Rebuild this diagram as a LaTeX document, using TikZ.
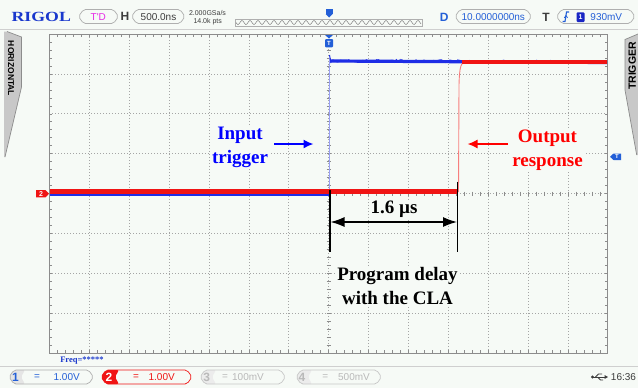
\documentclass[tikz,border=0pt]{standalone}
\usepackage{fontspec}
\setmainfont{Liberation Serif}
\newfontfamily\uifont{Liberation Sans}
\usetikzlibrary{arrows.meta}

\definecolor{scrbg}{RGB}{246,250,246}
\definecolor{gridgray}{RGB}{165,165,165}
\definecolor{framegray}{RGB}{140,140,140}
\definecolor{chblue}{RGB}{30,45,230}
\definecolor{chred}{RGB}{240,20,20}
\definecolor{uiblue}{RGB}{35,95,215}
\definecolor{logoblue}{RGB}{25,55,205}
\definecolor{tdpink}{RGB}{230,40,230}
\definecolor{tabgray}{RGB}{200,200,200}
\definecolor{boxgray}{RGB}{175,175,175}
\definecolor{uidark}{RGB}{60,60,60}
\definecolor{notered}{RGB}{255,0,0}
\definecolor{noteblue}{RGB}{0,0,255}

\tikzset{
  gridline/.style={gridgray, line width=0.6bp, dash pattern=on 0.8bp off 2.2bp},
  frameline/.style={framegray, line width=0.8bp},
  tickline/.style={framegray, line width=0.5bp},
  note/.style={font=\bfseries\fontsize{19bp}{24bp}\selectfont, align=center, fill=scrbg, inner sep=1bp},
  notearrow/.style={-{Latex[length=10bp,width=9bp]}, line width=1.6bp},
  dimline/.style={black, line width=1.3bp},
  dimarrow/.style={{Latex[length=14bp,width=10bp]}-{Latex[length=14bp,width=10bp]}, black, line width=1.3bp},
  uitext/.style={font=\uifont\fontsize{10bp}{10bp}\selectfont, inner sep=0pt},
  uibold/.style={font=\uifont\bfseries\fontsize{12bp}{12bp}\selectfont, inner sep=0pt},
  smalltext/.style={font=\uifont\fontsize{7bp}{7bp}\selectfont, inner sep=0pt, text=uidark},
  tinytag/.style={font=\uifont\bfseries\fontsize{7bp}{7bp}\selectfont, inner sep=0pt, text=white},
  uibox/.style={draw=boxgray, line width=0.7bp, rounded corners=2bp},
}

% box with pointed ends: x left, x right, y centre, extra options
\newcommand{\chevbox}[4]{%
  \draw[uibox,#4] (#1,#3) -- (#1+5,#3-7) -- (#2-5,#3-7) -- (#2,#3) -- (#2-5,#3+7) -- (#1+5,#3+7) -- cycle;}

\begin{document}
\begin{tikzpicture}[x=1bp, y=-1bp]
\useasboundingbox (0,0) rectangle (638,388);
\fill[scrbg] (0,0) rectangle (638,388);

% top bar
\node[font=\bfseries\fontsize{14bp}{14bp}\selectfont, text=logoblue, xscale=1.27, inner sep=0pt] (logo) at (41.3,16.5) {RIGOL};
\chevbox{78.5}{118.5}{16.5}{}
\node[uitext, text=tdpink] (tdmode) at (98.3,16.8) {T'D};
\node[uibold, text=uidark] (hlab) at (125,16.8) {H};
\chevbox{131.5}{185}{16.5}{}
\node[uitext, text=uidark] (hscale) at (158.5,16.8) {500.0ns};
\node[smalltext] (srate) at (207.5,13) {2.000GSa/s};
\node[smalltext] (mdepth) at (207.7,22) {14.0k pts};
\draw[boxgray, line width=0.6bp] (235,19) rectangle (422,26);
\draw[gray, line width=0.5bp] plot[domain=236:421, samples=190, smooth] (\x,{22.5+2*sin(45*(\x-236))});
\fill[uiblue] (325.5,8.5) rectangle (332.5,14);
\fill[uiblue] (325.5,14) -- (332.5,14) -- (329,17.5) -- cycle;
\node[uibold, text=uiblue] (dlab) at (444.3,17) {D};
\chevbox{455}{531.5}{16.5}{}
\node[uitext, text=uiblue] (delayset) at (493.3,16.8) {10.0000000ns};
\node[uibold, text=uidark] (tlab) at (546,17) {T};
\chevbox{556.5}{635}{16.5}{}
\draw[uiblue, line width=1.1bp] (562.5,21.5) -- (565,21.5) -- (566.5,12) -- (569,12); %edge
\draw[uiblue, line width=0.8bp] (564.3,17.8) -- (566,15.6) -- (567.6,17.8);
\fill[chblue!85!black, rounded corners=1bp] (576.5,12.3) rectangle (584.5,22);
\node[tinytag] (trigsrc) at (580.5,17.2) {1};
\node[uitext, text=uiblue] (triglevel) at (606.3,16.8) {930mV};
\draw[boxgray!60, line width=0.8bp] (0,29.5) -- (638,29.5);

% side tabs
\fill[tabgray] (4,31.5) -- (7,31.5) -- (21.5,37) -- (21.5,87) -- (5,157) -- (4,157) -- cycle;
\draw[framegray, line width=0.7bp] (7,31.5) -- (21.5,37) -- (21.5,87) -- (5,157);
\node[font=\uifont\bfseries\fontsize{8.5bp}{8.5bp}\selectfont, rotate=-90, inner sep=0pt] (horitab) at (11,68.5) {HORIZONTAL};
\fill[tabgray] (625,39.5) -- (638,34) -- (638,155) -- (636.7,155) -- (625,90) -- cycle;
\draw[framegray, line width=0.7bp] (638,34) -- (625,39.5) -- (625,90) -- (636.7,155);
\node[font=\uifont\bfseries\fontsize{10.5bp}{10.5bp}\selectfont, rotate=90, inner sep=0pt] (trigtab) at (632.3,66) {TRIGGER};

% grid
\begin{scope}[shift={(49.4,34)}, x=39.88bp, y=-39.88bp]
  \foreach \i in {1,...,13} \draw[gridline] (\i,0) -- (\i,8);
  \foreach \j in {1,...,7} \draw[gridline] (0,\j) -- (14,\j);
  \foreach \k in {1,...,69} {
    \draw[tickline] (\k/5,0) -- ++(0,0.075);
    \draw[tickline] (\k/5,8) -- ++(0,-0.075);
    \draw[tickline] (\k/5,3.95) -- (\k/5,4.05);
  }
  \foreach \k in {1,...,39} {
    \draw[tickline] (0,\k/5) -- ++(0.075,0);
    \draw[tickline] (14,\k/5) -- ++(-0.075,0);
    \draw[tickline] (6.95,\k/5) -- (7.05,\k/5);
  }
  \draw[frameline] (0,0) rectangle (14,8);
\end{scope}

% channel 1 (blue)
\pgfmathsetseed{7}
\draw[chblue, line width=2bp] (50,195.2) -- (329,195.2);
\draw[chblue!45, line width=0.8bp] (329,195) -- (329,58);
\draw[chblue, line width=3.2bp] (330,61) -- (607,62.5);
\draw[chblue, line width=0.5bp] plot[domain=331:606, samples=140] (\x,{60.5+0.006*(\x-331)+1.7*rand});
\draw[chblue, line width=1bp] (329.5,55) -- (331,63);

% channel 2 (red)
\draw[chred, line width=5bp] (50,191.8) -- (457.5,191.8);
\draw[chred!55, line width=0.9bp] (458.5,192) -- (459,85) .. controls (459.5,66) and (461,62) .. (466,62);
\draw[chred, line width=4bp] (462,62) -- (607,62);

% markers
\fill[chred] (36,190) -- (45.5,190) -- (49,193.7) -- (45.5,197.4) -- (36,197.4) -- cycle;
\node[tinytag] (ch2gnd) at (41,193.8) {2};
\fill[uiblue] (621,153.5) -- (613.5,153.5) -- (610,156.8) -- (613.5,160) -- (621,160) -- cycle;
\node[tinytag, font=\uifont\bfseries\fontsize{6bp}{6bp}\selectfont] (trigmark) at (617,156.9) {T};
\fill[uiblue] (325,35) -- (333,35) -- (329,38.5) -- cycle;
\fill[uiblue, rounded corners=1bp] (325,39) rectangle (333,47.3);
\node[tinytag, font=\uifont\bfseries\fontsize{6bp}{6bp}\selectfont] (trigpos) at (329,43.2) {T};

% annotations
\coordinate (edgeIn) at (330,190);
\coordinate (edgeInLow) at (330,252);
\coordinate (edgeOut) at (457.5,181.5);
\coordinate (edgeOutLow) at (457.5,252);
\draw[dimline] (edgeIn) -- (edgeInLow);
\draw[dimline] (edgeOut) -- (edgeOutLow);
\coordinate (dimL) at (330.5,222);
\coordinate (dimR) at (457,222);
\draw[dimarrow] (dimL) -- (dimR);
\node[note] (delaytime) at (394,209.6) {1.6 µs};
\node[note] (delaytxt) at (397.5,285.5) {Program delay\\with the CLA};
\node[note, text=noteblue] (intxt) at (240,147.5) {Input\\trigger};
\node[note, text=notered] (outtxt) at (547.5,150.5) {Output\\response};
\coordinate (inTail) at (274,144);
\coordinate (inHead) at (313.5,144);
\draw[notearrow, noteblue] (inTail) -- (inHead);
\coordinate (outTail) at (508,144);
\coordinate (outHead) at (467.5,144);
\draw[notearrow, notered] (outTail) -- (outHead);

% bottom bar
\node[font=\bfseries\fontsize{8.5bp}{8.5bp}\selectfont, text=logoblue, inner sep=0pt] (freq) at (82,360.5) {Freq=*****};
\draw[boxgray!60, line width=0.8bp] (0,366) -- (638,366);
%1
\fill[gray!20, rounded corners=2bp] (9,377) -- (14,370) -- (25,370) -- (21,377) -- (25,384) -- (14,384) -- cycle;
\chevbox{9}{93.5}{377}{}
\node[uibold, text=uiblue] (ch1num) at (15.5,377.3) {1};
\node[uitext, text=uiblue] (ch1cpl) at (37,377) {=};
\node[uitext, text=uiblue] (ch1scale) at (66.7,377.3) {1.00V};
%2
\fill[chred, rounded corners=2bp] (101,377) -- (106,370) -- (119,370) -- (115,377) -- (119,384) -- (106,384) -- cycle;
\chevbox{101}{192}{377}{draw=chred}
\node[uibold, text=white] (ch2num) at (109,377.3) {2};
\node[uitext, text=chred] (ch2cpl) at (136,377) {=};
\node[uitext, text=chred] (ch2scale) at (161.7,377.3) {1.00V};
%3
\fill[gray!15, rounded corners=2bp] (200,377) -- (205,370) -- (216,370) -- (212,377) -- (216,384) -- (205,384) -- cycle;
\chevbox{200}{285.5}{377}{draw=boxgray!70}
\node[uibold, text=gray!55] (ch3num) at (206.7,377.3) {3};
\node[uitext, text=gray!55] (ch3cpl) at (225,377) {=};
\node[uitext, text=gray!55] (ch3scale) at (248,377.3) {100mV};
%4
\fill[gray!15, rounded corners=2bp] (296,377) -- (301,370) -- (312,370) -- (308,377) -- (312,384) -- (301,384) -- cycle;
\chevbox{296}{381.5}{377}{draw=boxgray!70}
\node[uibold, text=gray!55] (ch4num) at (302,377.3) {4};
\node[uitext, text=gray!55] (ch4cpl) at (325.3,377) {=};
\node[uitext, text=gray!55] (ch4scale) at (354,377.3) {500mV};
% usb and clock
\fill[uidark] (592.5,377) circle (1.7bp);
\draw[uidark, line width=0.9bp] (592.5,377) -- (605,377);
\draw[uidark, line width=0.9bp] (595.5,377) -- (598.5,374) -- (602,374);
\draw[uidark, line width=0.9bp] (597.5,377) -- (600.5,380) -- (603,380);
\fill[uidark] (608,377) -- (604.5,375) -- (604.5,379) -- cycle;
\node[uitext, text=uidark] (clock) at (623.5,377.3) {16:36};
\end{tikzpicture}
\end{document}
